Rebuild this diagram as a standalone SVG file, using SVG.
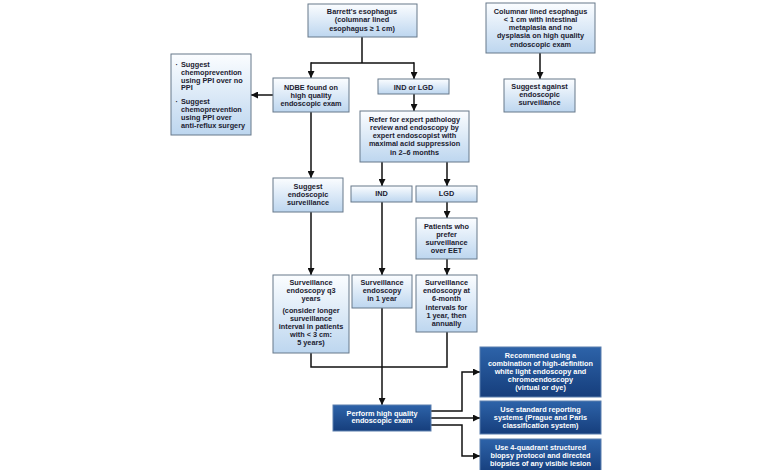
<svg xmlns="http://www.w3.org/2000/svg" width="780" height="470" viewBox="0 0 780 470">
<defs>
<linearGradient id="lg" x1="0" y1="0" x2="0" y2="1">
<stop offset="0" stop-color="#fbfdff"/>
<stop offset="1" stop-color="#bdd6ef"/>
</linearGradient>
<linearGradient id="dg" x1="0" y1="0" x2="0" y2="1">
<stop offset="0" stop-color="#2d63a9"/>
<stop offset="1" stop-color="#163e7c"/>
</linearGradient>
<marker id="ah" markerUnits="userSpaceOnUse" markerWidth="7" markerHeight="7" viewBox="0 0 7 7" refX="7" refY="3.5" orient="auto">
<path d="M0,0 L7,3.5 L0,7 Z" fill="#111"/>
</marker>
<style>
.lb{fill:url(#lg);stroke:#67788a;stroke-width:1}
.db{fill:url(#dg);stroke:#5b7fae;stroke-width:1}
text{font-family:"Liberation Sans",Arial,sans-serif;font-weight:bold;font-size:7.3px}
.t{fill:#1b2130;text-anchor:middle}
.tl{fill:#1b2130}
.w{fill:#ffffff;text-anchor:middle}
.c{fill:none;stroke:#111;stroke-width:1.5}
.a{fill:none;stroke:#111;stroke-width:1.5;marker-end:url(#ah)}
</style>
</defs>
<rect width="780" height="470" fill="#ffffff"/>

<g id="connectors">
<path class="c" d="M362,37 V63 M311,63 H414"/>
<path class="a" d="M311,62.25 V78"/>
<path class="a" d="M414,62.25 V79"/>
<path class="a" d="M273,95 H251"/>
<path class="a" d="M414,94 V111"/>
<path class="a" d="M382,162 V186"/>
<path class="a" d="M447,162 V186"/>
<path class="a" d="M311,112 V178"/>
<path class="a" d="M311,212 V275"/>
<path class="a" d="M382,202 V275"/>
<path class="a" d="M447,202 V218"/>
<path class="a" d="M447,259 V275"/>
<path class="a" d="M540,53 V79"/>
<path class="c" d="M311,353 V367 H447 V332"/>
<path class="a" d="M382,308 V405"/>
<path class="a" d="M431,411 H462 V372 H480"/>
<path class="a" d="M431,418 H480"/>
<path class="a" d="M431,425 H462 V456 H480"/>
</g>

<g id="barrett">
<rect class="lb" x="308" y="4" width="109" height="33"/>
<text class="t" x="362" y="13.5">Barrett's esophagus</text>
<text class="t" x="362" y="22">(columnar lined</text>
<text class="t" x="362" y="30.5">esophagus ≥ 1 cm)</text>
</g>

<g id="columnar">
<rect class="lb" x="486" y="3" width="109" height="50"/>
<text class="t" x="540.5" y="13.5">Columnar lined esophagus</text>
<text class="t" x="540.5" y="21.8">&lt; 1 cm with intestinal</text>
<text class="t" x="540.5" y="30.1">metaplasia and no</text>
<text class="t" x="540.5" y="38.4">dysplasia on high quality</text>
<text class="t" x="540.5" y="46.5">endoscopic exam</text>
</g>

<g id="chemoprevention">
<rect class="lb" x="171" y="54" width="80" height="81"/>
<text class="tl" x="175.5" y="66.5">·</text>
<text class="tl" x="181" y="66.5">Suggest</text>
<text class="tl" x="181" y="74.5">chemoprevention</text>
<text class="tl" x="181" y="82.5">using PPI over no</text>
<text class="tl" x="181" y="90.3">PPI</text>
<text class="tl" x="175.5" y="103.5">·</text>
<text class="tl" x="181" y="103.5">Suggest</text>
<text class="tl" x="181" y="111.5">chemoprevention</text>
<text class="tl" x="181" y="119.5">using PPI over</text>
<text class="tl" x="181" y="127.8">anti-reflux surgery</text>
</g>

<g id="ndbe">
<rect class="lb" x="273" y="78" width="76" height="34"/>
<text class="t" x="311" y="89.8">NDBE found on</text>
<text class="t" x="311" y="98.1">high quality</text>
<text class="t" x="311" y="106.3">endoscopic exam</text>
</g>

<g id="ind-or-lgd">
<rect class="lb" x="378" y="79" width="71" height="15"/>
<text class="t" x="413.5" y="89.6">IND or LGD</text>
</g>

<g id="against">
<rect class="lb" x="504" y="79" width="71" height="33"/>
<text class="t" x="539.5" y="88.5">Suggest against</text>
<text class="t" x="539.5" y="96.8">endoscopic</text>
<text class="t" x="539.5" y="105">surveillance</text>
</g>

<g id="refer">
<rect class="lb" x="360" y="111" width="109" height="51"/>
<text class="t" x="414.5" y="121.5">Refer for expert pathology</text>
<text class="t" x="414.5" y="129.8">review and endoscopy by</text>
<text class="t" x="414.5" y="138.1">expert endoscopist with</text>
<text class="t" x="414.5" y="146.4">maximal acid suppression</text>
<text class="t" x="414.5" y="154.7">in 2–6 months</text>
</g>

<g id="suggest-surveillance">
<rect class="lb" x="273" y="178" width="70" height="34"/>
<text class="t" x="308" y="188.5">Suggest</text>
<text class="t" x="308" y="196.8">endoscopic</text>
<text class="t" x="308" y="205">surveillance</text>
</g>

<g id="ind">
<rect class="lb" x="351" y="186" width="61" height="16"/>
<text class="t" x="381.5" y="196.3">IND</text>
</g>

<g id="lgd">
<rect class="lb" x="416" y="186" width="61" height="16"/>
<text class="t" x="446.5" y="196.3">LGD</text>
</g>

<g id="patients">
<rect class="lb" x="416" y="218" width="61" height="41"/>
<text class="t" x="446.5" y="228.8">Patients who</text>
<text class="t" x="446.5" y="236.8">prefer</text>
<text class="t" x="446.5" y="244.8">surveillance</text>
<text class="t" x="446.5" y="252.8">over EET</text>
</g>

<g id="q3">
<rect class="lb" x="273" y="275" width="76" height="78"/>
<text class="t" x="311" y="285.2">Surveillance</text>
<text class="t" x="311" y="293.2">endoscopy q3</text>
<text class="t" x="311" y="301">years</text>
<text class="t" x="311" y="313.2">(consider longer</text>
<text class="t" x="311" y="321">surveillance</text>
<text class="t" x="311" y="328.8">interval in patients</text>
<text class="t" x="311" y="336.6">with &lt; 3 cm:</text>
<text class="t" x="311" y="344.5">5 years)</text>
</g>

<g id="one-year">
<rect class="lb" x="352" y="275" width="60" height="33"/>
<text class="t" x="382" y="285.2">Surveillance</text>
<text class="t" x="382" y="293.4">endoscopy</text>
<text class="t" x="382" y="301.3">in 1 year</text>
</g>

<g id="six-month">
<rect class="lb" x="416" y="275" width="61" height="57"/>
<text class="t" x="446.5" y="285.2">Surveillance</text>
<text class="t" x="446.5" y="293.3">endoscopy at</text>
<text class="t" x="446.5" y="301.4">6-month</text>
<text class="t" x="446.5" y="309.5">intervals for</text>
<text class="t" x="446.5" y="317.6">1 year, then</text>
<text class="t" x="446.5" y="325.8">annually</text>
</g>

<g id="perform">
<rect class="db" x="333" y="405" width="98" height="26"/>
<text class="w" x="382" y="415.6">Perform high quality</text>
<text class="w" x="382" y="423.4">endoscopic exam</text>
</g>

<g id="recommend">
<rect class="db" x="480" y="347" width="121" height="50"/>
<text class="w" x="540.5" y="357.6">Recommend using a</text>
<text class="w" x="540.5" y="365.9">combination of high-definition</text>
<text class="w" x="540.5" y="374.1">white light endoscopy and</text>
<text class="w" x="540.5" y="382.3">chromoendoscopy</text>
<text class="w" x="540.5" y="390.4">(virtual or dye)</text>
</g>

<g id="reporting">
<rect class="db" x="480" y="401" width="121" height="33"/>
<text class="w" x="540.5" y="411.9">Use standard reporting</text>
<text class="w" x="540.5" y="420.1">systems (Prague and Paris</text>
<text class="w" x="540.5" y="428.3">classification system)</text>
</g>

<g id="biopsy">
<rect class="db" x="480" y="439" width="121" height="34"/>
<text class="w" x="540.5" y="449.9">Use 4-quadrant structured</text>
<text class="w" x="540.5" y="458.1">biopsy protocol and directed</text>
<text class="w" x="540.5" y="466.3">biopsies of any visible lesion</text>
</g>
</svg>
